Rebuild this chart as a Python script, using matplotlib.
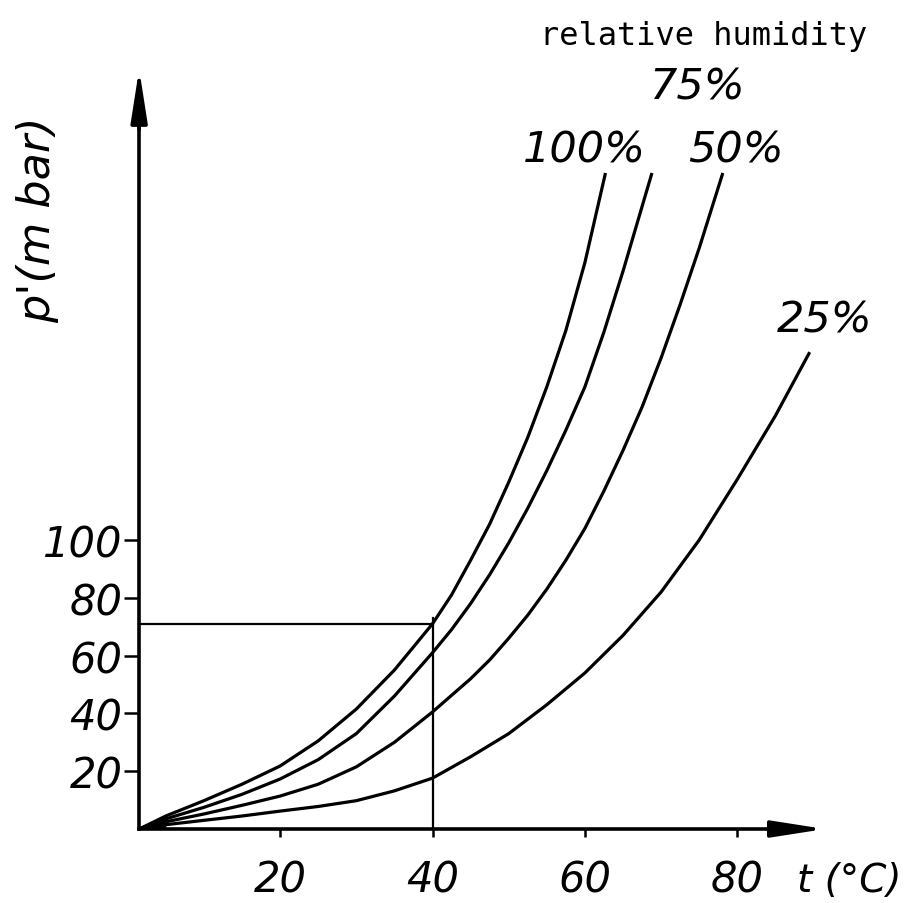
import matplotlib
matplotlib.use("Agg")
import matplotlib.pyplot as plt

# values: temperature t (degC) and vapour pressure p' (mbar)
h100_t = [1.5, 5, 10, 15, 20, 25, 30, 35, 40, 42.5, 45, 47.5, 50, 52.5, 55, 57.5, 60, 62.7]
h100_p = [0, 4.5, 9.8, 15.5, 21.8, 30.5, 41.5, 55, 71, 81, 93, 105.5, 120, 135.5, 153, 172.5, 196, 227]

h75_t = [1.5, 5, 10, 15, 20, 25, 30, 35, 40, 42.5, 45, 47.5, 50, 52.5, 55, 57.5, 60, 62.5, 65, 68.8]
h75_p = [0, 3.5, 7.5, 12, 17.3, 24, 33, 46, 61, 69, 78, 88, 99, 111, 124, 138, 153, 172, 193, 227]

h50_t = [1.5, 5, 10, 15, 20, 25, 30, 35, 40, 45, 47.5, 50, 52.5, 55, 57.5, 60,
         62.5, 65, 67.5, 70, 72.5, 75, 78.1]
h50_p = [0, 2.5, 5.2, 8.2, 11.4, 15.5, 21.5, 30, 40.5, 52, 58.5, 66, 74, 83, 93, 104,
         117, 131, 146, 163, 181.5, 201, 227]

h25_t = [1.5, 5, 10, 15, 20, 25, 30, 35, 40, 45, 50, 55, 60, 65, 70, 75, 80, 85, 89.5]
h25_p = [0, 1.5, 3.0, 4.5, 6.2, 7.8, 9.8, 13.2, 17.6, 25, 33, 43, 54, 67, 82, 100, 121, 143, 165]

x_ticks = [20, 40, 60, 80]
y_ticks = [20, 40, 60, 80, 100]

# reading example marked on the chart
ref_t = 40
ref_p = 71

FONT = "DejaVu Sans"

fig = plt.figure(figsize=(9.06, 9.04), dpi=100)
ax = fig.add_axes([0, 0, 1, 1])
ax.set_xlim(-16.76, 102.14)
ax.set_ylim(-25.6, 287.2)

for t, p in [(h100_t, h100_p), (h75_t, h75_p), (h50_t, h50_p), (h25_t, h25_p)]:
    ax.plot(t, p, color="black", lw=2.3, solid_capstyle="butt", solid_joinstyle="round")

# dark wedge where the curves meet at the origin
ax.fill_between(h100_t[:2], 0, h100_p[:2], color="black", lw=0)

# example reading lines
ax.plot([h100_t[0], ref_t], [ref_p, ref_p], color="black", lw=1.6)
ax.plot([ref_t, ref_t], [0, ref_p + 2], color="black", lw=1.6)

# axes as arrows
for s in ["top", "right"]:
    ax.spines[s].set_visible(False)
ax.spines["left"].set_position(("data", h100_t[0]))
ax.spines["bottom"].set_position(("data", 0))
ax.spines["left"].set_bounds(0, 250)
ax.spines["bottom"].set_bounds(h100_t[0], 88)
ax.spines["left"].set_linewidth(2.6)
ax.spines["bottom"].set_linewidth(2.6)
ax.set_facecolor("white")

arrow = dict(arrowstyle="-|>,head_length=3.2,head_width=0.5", color="black",
             lw=2.6, mutation_scale=10, shrinkA=0, shrinkB=0)
ax.annotate("", xy=(h100_t[0], 263), xytext=(h100_t[0], 242), arrowprops=arrow)
ax.annotate("", xy=(91.5, 0), xytext=(84, 0), arrowprops=arrow)

ax.set_xticks(x_ticks)
ax.set_xticklabels([str(v) for v in x_ticks], fontsize=30, style="italic", family=FONT)
ax.set_yticks(y_ticks)
ax.set_yticklabels([str(v) for v in y_ticks], fontsize=30, style="italic", family=FONT)
ax.tick_params(axis="x", direction="out", length=6, width=1.8, pad=15)
ax.tick_params(axis="y", direction="out", length=11, width=1.8, pad=1)

# labels
ax.text(-11.8, 211, "p'(m bar)", rotation=90, ha="center", va="center",
        fontsize=32, style="italic", family=FONT)
ax.text(101.6, -17.6, "t (°C)", ha="right", va="center",
        fontsize=28, style="italic", family=FONT)
ax.text(75.6, 271.6, "relative humidity", ha="center", va="baseline",
        fontsize=23, family="DejaVu Sans Mono")
ax.text(74.7, 252.6, "75%", ha="center", va="baseline", fontsize=31,
        style="italic", family=FONT)
ax.text(60.0, 231, "100%", ha="center", va="baseline", fontsize=31,
        style="italic", family=FONT)
ax.text(79.8, 231, "50%", ha="center", va="baseline", fontsize=31,
        style="italic", family=FONT)
ax.text(91.5, 172, "25%", ha="center", va="baseline", fontsize=31,
        style="italic", family=FONT)

fig.savefig("out.png", dpi=100, facecolor="white")
